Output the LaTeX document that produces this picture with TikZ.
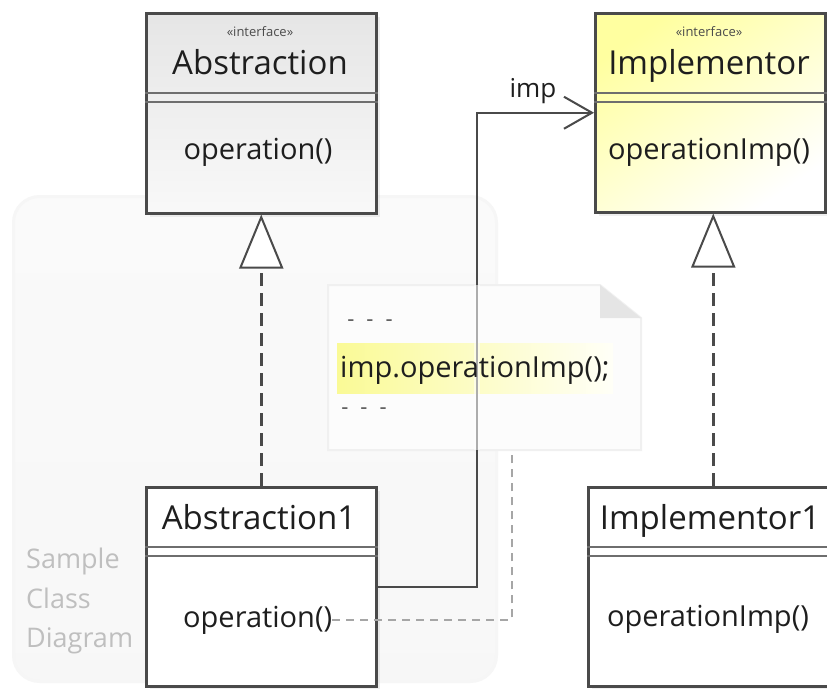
\documentclass[tikz,border=0pt]{standalone}
\usepackage{fontspec}
\setmainfont{Open Sans}
\usetikzlibrary{arrows.meta,shadows,calc}
\definecolor{linec}{HTML}{4A4A4A}
\definecolor{txt}{HTML}{1E1E1E}
\definecolor{hiyel}{HTML}{FAFA96}
\definecolor{impyel}{HTML}{FFFFA0}
\tikzset{
  classbox/.style={draw=linec, line width=2.5pt, anchor=north west, inner sep=0pt,
    drop shadow={opacity=0.12, shadow xshift=4pt, shadow yshift=-4pt}},
  divider/.style={draw=linec!80, line width=1.6pt},
  lbl/.style={text=txt, font=\fontsize{29}{34}\selectfont, inner sep=0pt, anchor=base},
  namelbl/.style={text=txt, font=\fontsize{33}{38}\selectfont, inner sep=0pt, anchor=base},
  stereo/.style={text=txt!80, font=\fontsize{13}{16}\selectfont, inner sep=0pt, anchor=base},
  realize/.style={draw=linec, line width=2.5pt, dash pattern=on 13pt off 7pt,
    -{Triangle[length=54pt, width=44pt, fill=white, line width=2pt]}},
  assoc/.style={draw=linec, line width=2.5pt, -{Straight Barb[length=28pt, width=32pt, line width=2pt]}},
  notelink/.style={draw=gray!70, line width=1.5pt, dash pattern=on 8pt off 6pt},
  sidetxt/.style={text=gray!50, font=\fontsize{27}{30}\selectfont, anchor=base west, inner sep=0pt},
  dotstxt/.style={text=txt!75, font=\fontsize{22}{26}\selectfont, inner sep=0pt},
}
\begin{document}
\begin{tikzpicture}[x=1pt,y=-1pt]
\useasboundingbox (0,0) rectangle (827,688);
\clip (0,0) rectangle (827,688);
\fill[white] (0,0) rectangle (827,688);
% frame
\node[draw=gray!7, line width=3pt, rounded corners=26pt, top color=gray!4, bottom color=gray!6,
  anchor=north west, minimum width=483pt, minimum height=485pt, inner sep=0pt] (frame) at (12,195) {};
\node[sidetxt] (s1) at (26,568) {Sample};
\node[sidetxt] (s2) at (26,608) {Class};
\node[sidetxt] (s3) at (26,647) {Diagram};
% Abstraction
\node[classbox, top color=gray!20, bottom color=gray!5, minimum width=230pt, minimum height=200pt] (abs) at (145,12) {};
\node[stereo] (absst) at (260,36) {«interface»};
\node[namelbl] (absname) at (260,74) {Abstraction};
\draw[divider] ([yshift=-81pt]abs.north west) -- ([yshift=-81pt]abs.north east);
\draw[divider] ([yshift=-90pt]abs.north west) -- ([yshift=-90pt]abs.north east);
\node[lbl] (absop) at (258,159) {operation()};
% Implementor
\node[classbox, top color=impyel, bottom color=white, shading angle=35, minimum width=230pt, minimum height=199pt] (impl) at (594,12) {};
\node[stereo] (implst) at (709,36) {«interface»};
\node[namelbl] (implname) at (709,74) {Implementor};
\draw[divider] ([yshift=-81pt]impl.north west) -- ([yshift=-81pt]impl.north east);
\draw[divider] ([yshift=-90pt]impl.north west) -- ([yshift=-90pt]impl.north east);
\node[lbl] (implop) at (709,159) {operationImp()};
% Abstraction1
\node[classbox, fill=white, minimum width=230pt, minimum height=199pt] (abs1) at (145,486) {};
\node[namelbl] (abs1name) at (259,529) {Abstraction1};
\draw[divider] ([yshift=-61pt]abs1.north west) -- ([yshift=-61pt]abs1.north east);
\draw[divider] ([yshift=-70pt]abs1.north west) -- ([yshift=-70pt]abs1.north east);
\node[lbl, anchor=base west] (abs1op) at (183,627) {operation()};
% Implementor1
\node[classbox, fill=white, minimum width=250pt, minimum height=199pt] (impl1) at (587,486) {};
\node[namelbl] (impl1name) at (710,529) {Implementor1};
\draw[divider] ([yshift=-61pt]impl1.north west) -- ([yshift=-61pt]impl1.north east);
\draw[divider] ([yshift=-70pt]impl1.north west) -- ([yshift=-70pt]impl1.north east);
\node[lbl] (impl1op) at (708,626) {operationImp()};
% realizations
\draw[realize] (abs1.north) -- (abs.south);
\draw[realize] (impl1.north) -- (impl.south -| impl1.north);
% note
\coordinate (n1) at (328,285);
\coordinate (n2) at (600,285);
\coordinate (n3) at (641,318);
\coordinate (n4) at (641,450);
\coordinate (n5) at (328,450);
\fill[white!98!gray] (n1) -- (n2) -- (n3) -- (n4) -- (n5) -- cycle;
\draw[gray!12, line width=2pt] (n1) -- (n2) -- (n3) -- (n4) -- (n5) -- cycle;
\fill[gray!20] (n2) -- (n2 |- n3) -- (n3) -- cycle;
\shade[left color=hiyel, right color=white!97!yellow] (337,343) rectangle (613,393);
% association line
\coordinate (bend) at (477,0);
\draw[assoc] (abs1.east) -| (bend |- impl.west) -- (impl.west);
\fill[white, opacity=0.55] ([xshift=-3pt]bend |- n1) rectangle ([xshift=3pt]bend |- n5);
\node[text=txt, font=\fontsize{26}{30}\selectfont, inner sep=0pt, anchor=base] (implbl) at (533,97) {imp};
% note text
\node[dotstxt] (dots1) at (370,323) {-\hspace{12pt}-\hspace{12pt}-};
\node[lbl, anchor=base west] (noteline) at (340,377) {imp.operationImp();};
\node[dotstxt] (dots2) at (364,411) {-\hspace{12pt}-\hspace{12pt}-};
% note link
\coordinate (notebot) at (512,450);
\draw[notelink] (abs1op.east) -| (notebot);
\end{tikzpicture}
\end{document}
